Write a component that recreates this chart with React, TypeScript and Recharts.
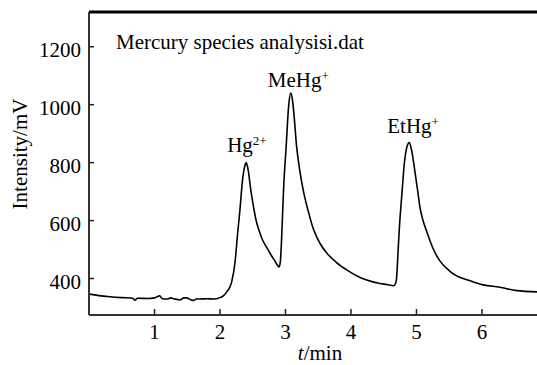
import React from 'react';
import { LineChart, Line, XAxis, YAxis, ReferenceLine, ReferenceDot } from 'recharts';

// retention time (min) and detector intensity (mV)
const times = [
  0.0, 0.15, 0.32, 0.5, 0.67, 0.7, 0.74, 0.9, 1.0, 1.08, 1.12, 1.19, 1.25, 1.3, 1.39, 1.45, 1.49,
  1.55, 1.59, 1.65, 1.69, 1.8, 1.9, 2.0, 2.06, 2.1, 2.15, 2.18, 2.23, 2.27, 2.3, 2.35, 2.38, 2.4,
  2.43, 2.47, 2.51, 2.55, 2.6, 2.65, 2.72, 2.78, 2.84, 2.88, 2.9, 2.92, 2.94, 2.97, 3.01, 3.05,
  3.08, 3.11, 3.13, 3.17, 3.22, 3.27, 3.35, 3.43, 3.53, 3.63, 3.78, 3.94, 4.1, 4.24, 4.44, 4.55,
  4.65, 4.69, 4.72, 4.74, 4.77, 4.8, 4.82, 4.85, 4.89, 4.93, 4.98, 5.02, 5.05, 5.1, 5.16, 5.26,
  5.36, 5.51, 5.65, 5.82, 6.02, 6.27, 6.53, 6.84,
];
const intensity = [
  346, 341, 337, 334, 332, 325, 332, 331, 333, 340, 330, 329, 333, 330, 326, 333, 333,
  327, 324, 330, 329, 330, 329, 334, 342, 353, 370, 390, 457, 557, 626, 752, 789, 800,
  775, 706, 650, 602, 563, 533, 505, 481, 460, 445, 440, 455, 533, 706, 855, 1000,
  1040, 1010, 965, 855, 770, 706, 630, 568, 520, 488, 455, 429, 408, 395, 383, 379,
  375, 390, 498, 580, 671, 760, 809, 851, 869, 837, 763, 700, 650, 600, 560, 500,
  460, 425, 405, 392, 378, 370, 358, 354,
];

const xTicks = [1, 2, 3, 4, 5, 6];
const yTicks = [400, 600, 800, 1000, 1200];
const xDomain = [0, 6.84];
const yDomain = [274, 1320];

const peakNames = ['Hg', 'MeHg', 'EtHg'];
const peakCharges = ['2+', '+', '+'];
const peakTimes = [2.4, 3.08, 4.89];
const peakHeights = [800, 1040, 869];

const title = 'Mercury species analysisi.dat';

const data = times.map((t, i) => ({ t, v: intensity[i] }));

const FONT = '"Liberation Serif", "Times New Roman", serif';
const W = 537;
const H = 365;
const AXIS_X = 89;
const AXIS_Y = 315;
const labelShift = [
  { dx: -19, dy: -11 },
  { dx: -23, dy: -6 },
  { dx: -22, dy: -10 },
];

const XTick = (props: any) => {
  const { x, payload } = props;
  return (
    <g>
      <line x1={x} x2={x} y1={AXIS_Y} y2={AXIS_Y - 6} stroke="#222" strokeWidth={1.5} />
      <text x={x} y={AXIS_Y + 9} dy="0.71em" textAnchor="middle" fontFamily={FONT} fontSize={21} fill="#000">
        {payload.value}
      </text>
    </g>
  );
};

const YTick = (props: any) => {
  const { y, payload } = props;
  return (
    <g>
      <line x1={AXIS_X} x2={AXIS_X + 5} y1={y} y2={y} stroke="#222" strokeWidth={1.5} />
      <text x={AXIS_X - 8} y={y + 3} dy="0.355em" textAnchor="end" fontFamily={FONT} fontSize={21} fill="#000">
        {payload.value}
      </text>
    </g>
  );
};

const peakLabel = (i: number) => (props: any) => {
  const vb = props.viewBox;
  const cx = vb.x + vb.width / 2;
  const cy = vb.y + vb.height / 2;
  return (
    <text x={cx + labelShift[i].dx} y={cy + labelShift[i].dy} fontFamily={FONT} fontSize={21} fill="#000">
      {peakNames[i]}
      <tspan dy={-7} fontSize={13}>
        {peakCharges[i]}
      </tspan>
    </text>
  );
};

export default function App() {
  return (
    <div style={{ position: 'absolute', left: 0, top: 0, width: W, height: H, background: '#fff' }}>
      <LineChart width={W} height={H} data={data} margin={{ top: 12, right: 0, bottom: 0, left: 0 }}>
        <XAxis
          dataKey="t"
          type="number"
          domain={xDomain}
          ticks={xTicks}
          allowDataOverflow
          height={50}
          tickLine={false}
          tick={<XTick />}
          axisLine={{ stroke: '#333', strokeWidth: 2 }}
        />
        <YAxis
          type="number"
          domain={yDomain}
          ticks={yTicks}
          allowDataOverflow
          width={89}
          tickLine={false}
          tick={<YTick />}
          axisLine={{ stroke: '#333', strokeWidth: 2 }}
        />
        <ReferenceLine y={yDomain[1]} stroke="#000" strokeWidth={3} />
        <Line
          type="monotone"
          dataKey="v"
          stroke="#000"
          strokeWidth={1.6}
          dot={false}
          isAnimationActive={false}
        />
        {peakTimes.map((t, i) => (
          <ReferenceDot
            key={peakNames[i]}
            x={t}
            y={peakHeights[i]}
            r={1}
            fill="none"
            stroke="none"
            label={peakLabel(i)}
          />
        ))}
        <text x={116} y={49} fontFamily={FONT} fontSize={21} fill="#000">
          {title}
        </text>
        <text
          x={20}
          y={154}
          transform="rotate(-90 20 154)"
          textAnchor="middle"
          dominantBaseline="central"
          fontFamily={FONT}
          fontSize={21}
          fill="#000"
        >
          Intensity/mV
        </text>
        <text x={320} y={360} textAnchor="middle" fontFamily={FONT} fontSize={21} fill="#000">
          <tspan fontStyle="italic">t</tspan>/min
        </text>
      </LineChart>
    </div>
  );
}
